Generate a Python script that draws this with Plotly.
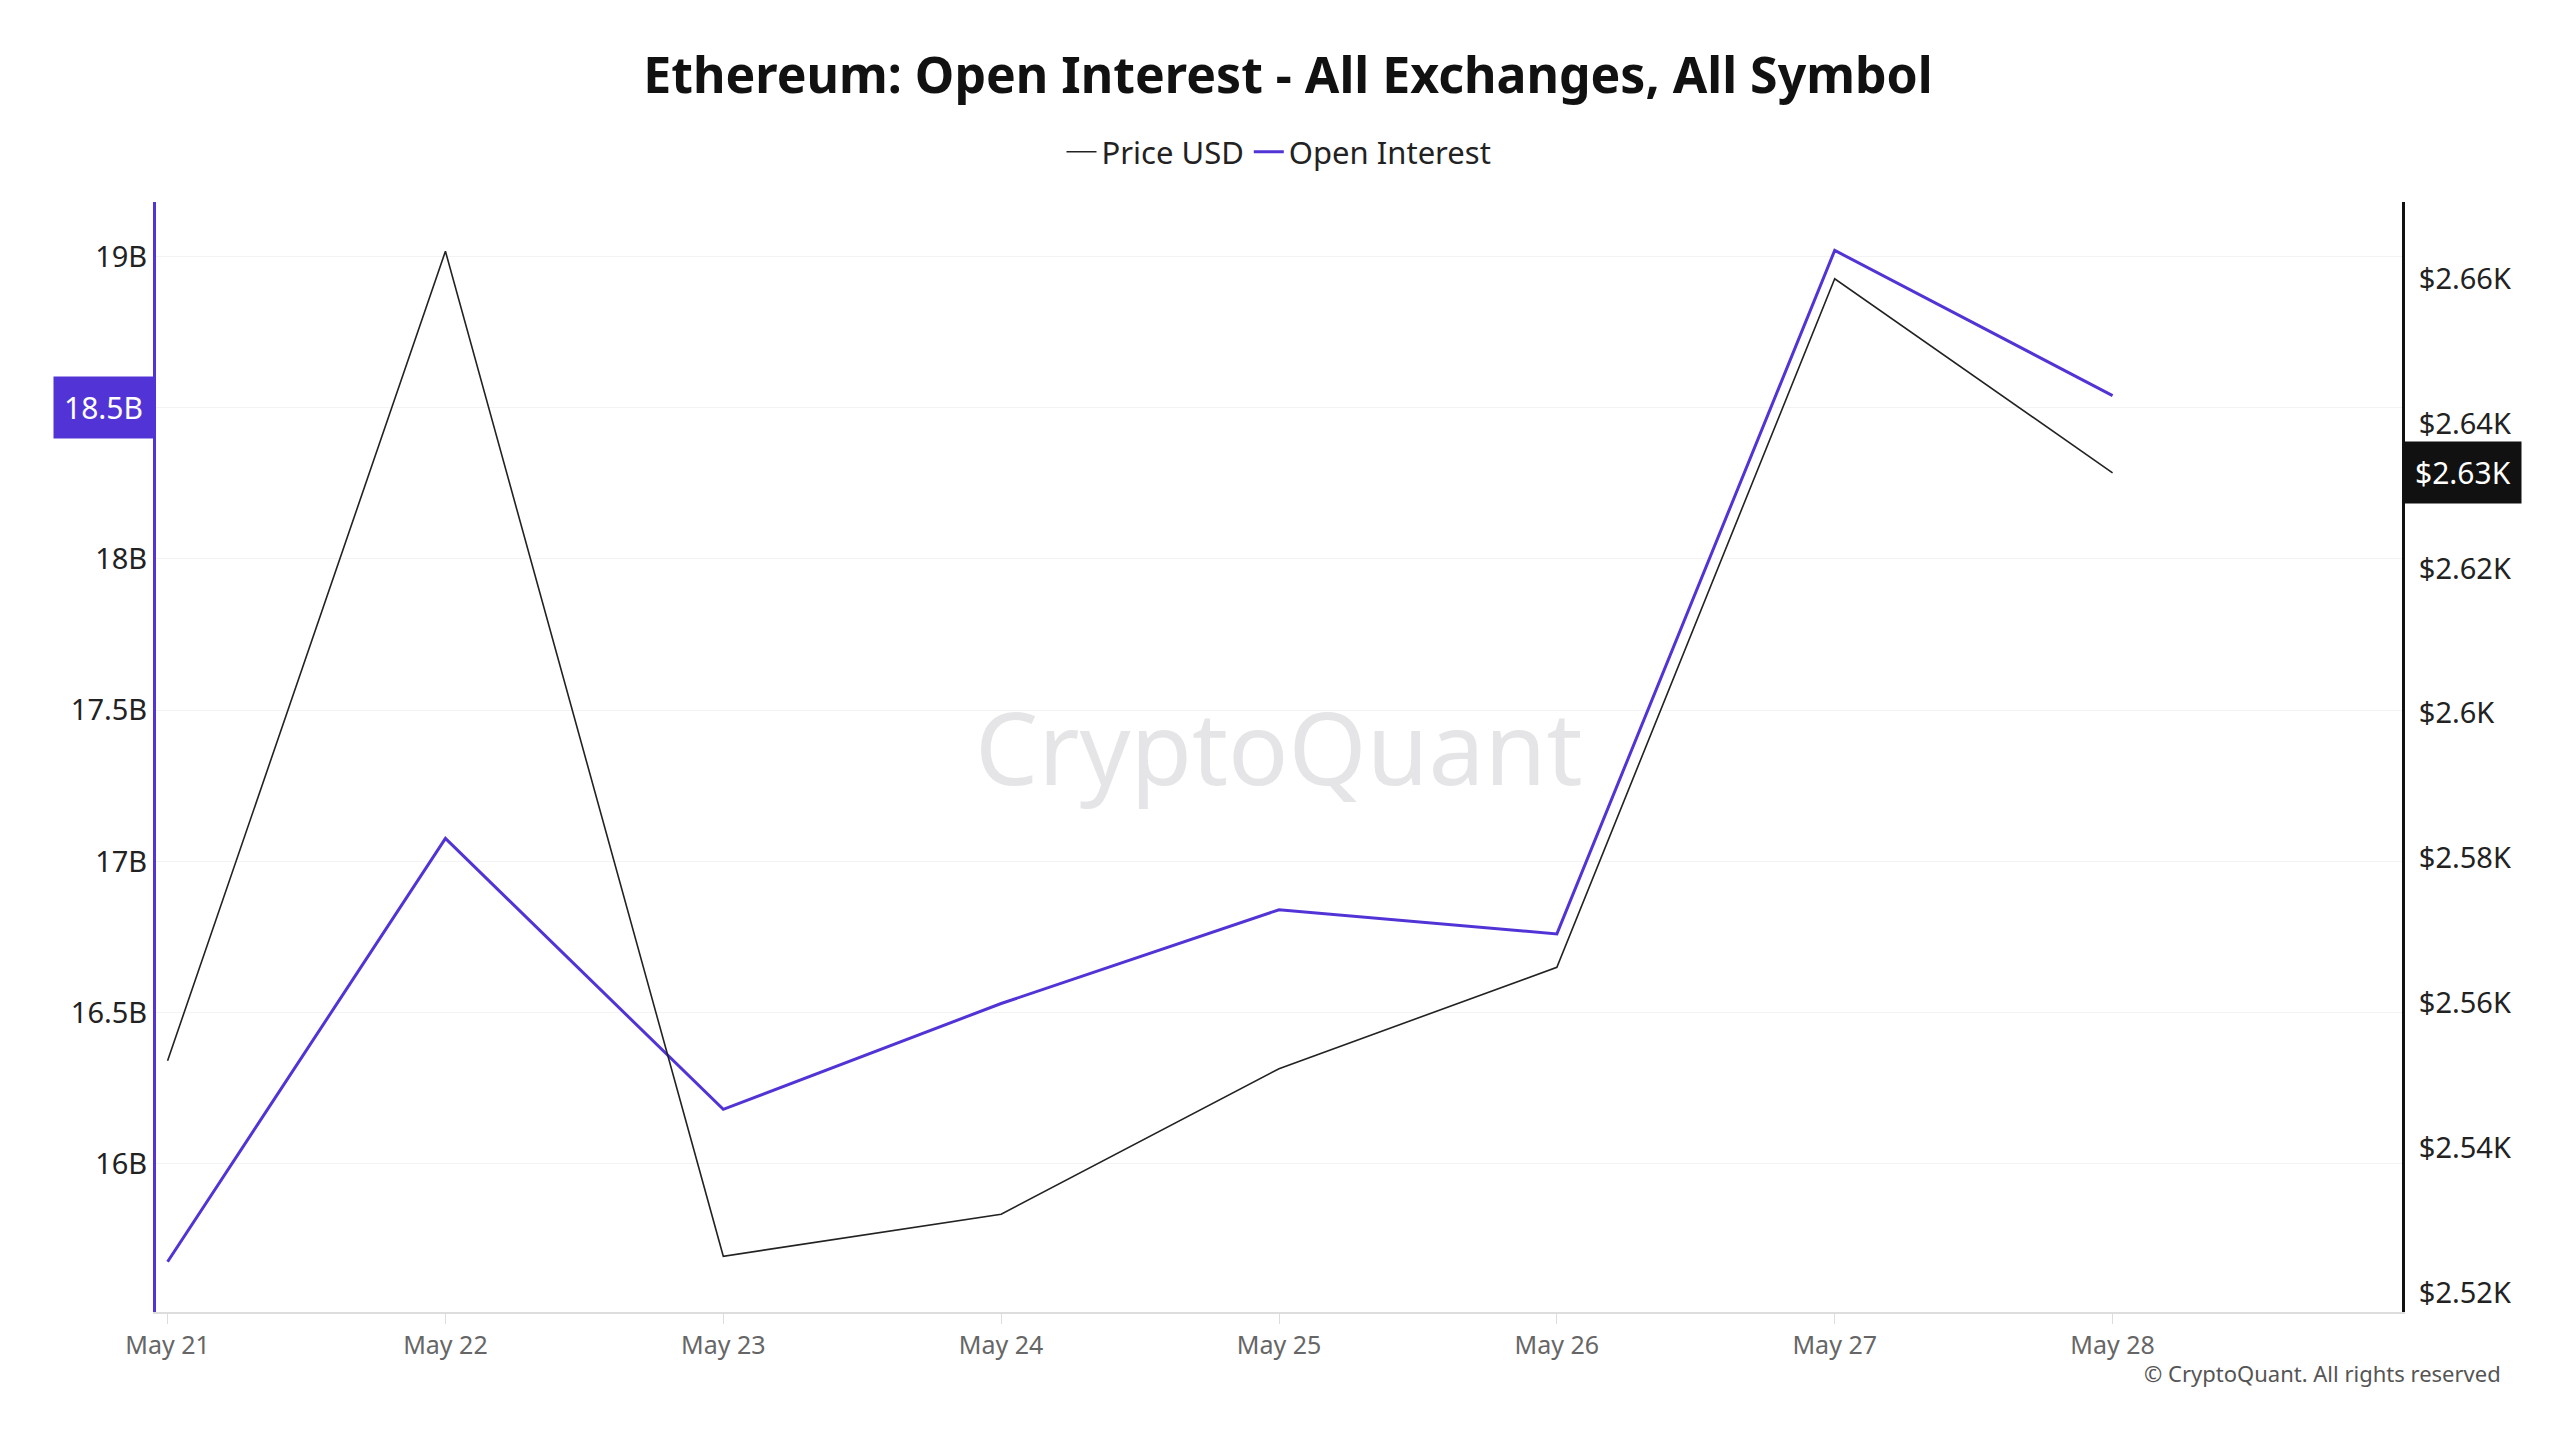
import plotly.graph_objects as go

dates = ["2024-05-21","2024-05-22","2024-05-23","2024-05-24","2024-05-25","2024-05-26","2024-05-27","2024-05-28"]
price_usd = [2552, 2663.8, 2525, 2530.8, 2550.9, 2564.9, 2660, 2633.2]
open_interest = [15.676e9, 17.076e9, 16.18e9, 16.53e9, 16.84e9, 16.76e9, 19.02e9, 18.54e9]
oi_ticks = [16e9, 16.5e9, 17e9, 17.5e9, 18e9, 18.5e9, 19e9]
oi_tick_text = ["16B","16.5B","17B","17.5B","18B","","19B"]
price_ticks = [2520, 2540, 2560, 2580, 2600, 2620, 2640, 2660]
price_tick_text = ["$2.52K","$2.54K","$2.56K","$2.58K","$2.6K","$2.62K","$2.64K","$2.66K"]

F = "Noto Sans"
fig = go.Figure()
fig.add_trace(go.Scatter(x=dates, y=price_usd, name="Price USD", yaxis="y2",
                         mode="lines", line=dict(color="#222222", width=1.6)))
fig.add_trace(go.Scatter(x=dates, y=open_interest, name="Open Interest",
                         mode="lines", line=dict(color="#5234d6", width=3)))
fig.update_layout(
    width=2560, height=1440, plot_bgcolor="white", paper_bgcolor="white",
    font=dict(family=F, size=29, color="#222"),
    margin=dict(l=148, r=166, t=194, b=136),
    title=dict(text="<b>Ethereum: Open Interest - All Exchanges, All Symbol</b>", x=0.5, y=0.965,
               xanchor="center", yanchor="top", font=dict(size=50, color="#111")),
    legend=dict(orientation="h", x=0.5, xanchor="center", y=1.045, yanchor="middle",
                font=dict(size=31), traceorder="normal", itemwidth=30),
    xaxis=dict(type="date", range=["2024-05-20 23:00", "2024-05-29 01:00"],
               tickvals=dates, ticktext=["May 21","May 22","May 23","May 24","May 25","May 26","May 27","May 28"],
               tickfont=dict(size=25, color="#666"), showgrid=False, showline=True,
               linecolor="#ddd", linewidth=2, ticks="outside", tickcolor="#ddd", ticklen=10),
    yaxis=dict(range=[15.51e9, 19.18e9], tickvals=oi_ticks, ticktext=oi_tick_text,
               showgrid=True, gridcolor="#f3f3f3", showline=True, linecolor="#5234d6",
               linewidth=3, zeroline=False, ticklen=0, ticks="outside", tickcolor="white"),
    yaxis2=dict(range=[2517.3, 2670.6], tickvals=price_ticks, ticktext=price_tick_text,
                overlaying="y", side="right", showgrid=False, showline=True,
                linecolor="#111", linewidth=3, zeroline=False, ticks="outside", tickcolor="white", ticklen=8),
)
fig.add_annotation(text="18.5B", xref="paper", x=0, xanchor="right", xshift=-2, yref="y", y=18.5e9,
                   showarrow=False, bgcolor="#5234d6", font=dict(color="white", size=30), borderpad=10)
fig.add_annotation(text="$2.63K", xref="paper", x=1, xanchor="left", xshift=2, yref="y2", y=2633.2,
                   showarrow=False, bgcolor="#111", font=dict(color="white", size=30), borderpad=10)
fig.add_annotation(text="CryptoQuant", xref="paper", yref="paper", x=0.5, y=0.51, showarrow=False,
                   font=dict(size=100, color="rgba(150,150,165,0.25)"))
fig.add_annotation(text="© CryptoQuant. All rights reserved", xref="paper", yref="paper", x=1.045, y=-0.07,
                   xanchor="right", showarrow=False, font=dict(size=22, color="#555"))
fig.write_html("out.html")
